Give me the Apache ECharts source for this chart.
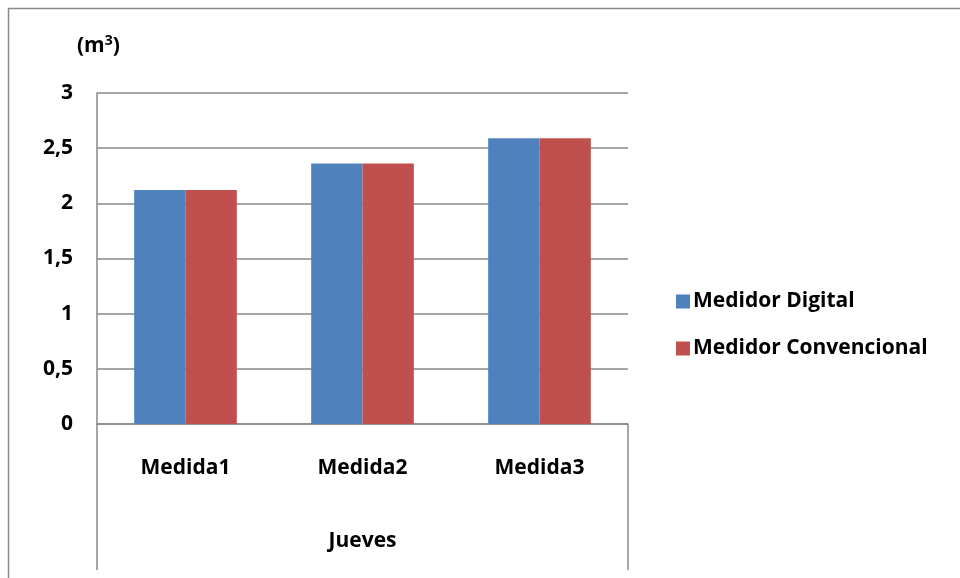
<!DOCTYPE html>
<html>
<head>
<meta charset="utf-8">
<script src="https://cdn.jsdelivr.net/npm/echarts@6/dist/echarts.min.js"></script>
<style>
  html, body { margin: 0; padding: 0; background: #fff; }
  #chart { width: 960px; height: 578px; }
</style>
</head>
<body>
<div id="chart"></div>
<script>
// Volumen medido (m³) por ambos medidores, jueves
const categories = ['Medida1', 'Medida2', 'Medida3'];
const digital = [2.12, 2.36, 2.59];
const convencional = [2.12, 2.36, 2.59];
const seriesNames = ['Medidor Digital', 'Medidor Convencional'];
const groupLabel = 'Jueves';

const FONT = '"Open Sans", "Noto Sans", sans-serif';
const GRID = { left: 97, right: 332, top: 93, bottom: 154 };

const chart = echarts.init(document.getElementById('chart'), null, { renderer: 'canvas' });

chart.setOption({
  animation: false,
  textStyle: { fontFamily: FONT },
  grid: GRID,
  legend: {
    orient: 'vertical',
    left: 671,
    top: 286,
    itemWidth: 14,
    itemHeight: 14,
    itemGap: 26,
    icon: 'rect',
    textStyle: { fontSize: 21, fontWeight: 'bold', color: '#000', fontFamily: FONT, padding: [0, 0, 0, -2] },
    data: seriesNames
  },
  xAxis: {
    type: 'category',
    data: categories,
    axisLine: { lineStyle: { color: '#888', width: 1.5 } },
    axisTick: { show: false },
    axisLabel: { fontSize: 21, fontWeight: 'bold', color: '#000', margin: 34 },
    name: groupLabel,
    nameLocation: 'middle',
    nameGap: 107,
    nameTextStyle: { fontSize: 21, fontWeight: 'bold', color: '#000' }
  },
  yAxis: {
    type: 'value',
    min: 0,
    max: 3,
    interval: 0.5,
    axisLine: { show: true, lineStyle: { color: '#888', width: 1.5 } },
    axisTick: { show: false },
    splitLine: { lineStyle: { color: '#888', width: 1.5 } },
    axisLabel: {
      fontSize: 21, fontWeight: 'bold', color: '#000', margin: 24,
      formatter: v => String(v).replace('.', ',')
    }
  },
  series: [
    {
      name: seriesNames[0], type: 'bar', data: digital,
      barGap: '0%', barCategoryGap: '42%',
      itemStyle: { color: '#4F81BD' }
    },
    {
      name: seriesNames[1], type: 'bar', data: convencional,
      barGap: '0%', barCategoryGap: '42%',
      itemStyle: { color: '#C0504D' }
    }
  ],
  graphic: [
    // unidad del eje vertical, con exponente
    { type: 'text', left: 77, top: 34,
      style: {
        text: '{b|(m}{s|3}{b|)}',
        rich: {
          b: { font: 'bold 21px ' + FONT, fill: '#000', verticalAlign: 'bottom' },
          s: { font: 'bold 14px ' + FONT, fill: '#000', verticalAlign: 'top', padding: [0, 0, 9, 0] }
        }
      } },
    // marco exterior
    { type: 'polyline', shape: { points: [[8.5, 578], [8.5, 8.5], [960, 8.5]] },
      style: { stroke: '#888', lineWidth: 1.5, fill: null } },
    // separadores laterales del eje de categorías
    { type: 'line', shape: { x1: 97, y1: 424, x2: 97, y2: 570 },
      style: { stroke: '#888', lineWidth: 1.5 } },
    { type: 'line', shape: { x1: 628, y1: 424, x2: 628, y2: 570 },
      style: { stroke: '#888', lineWidth: 1.5 } }
  ]
});
</script>
</body>
</html>
